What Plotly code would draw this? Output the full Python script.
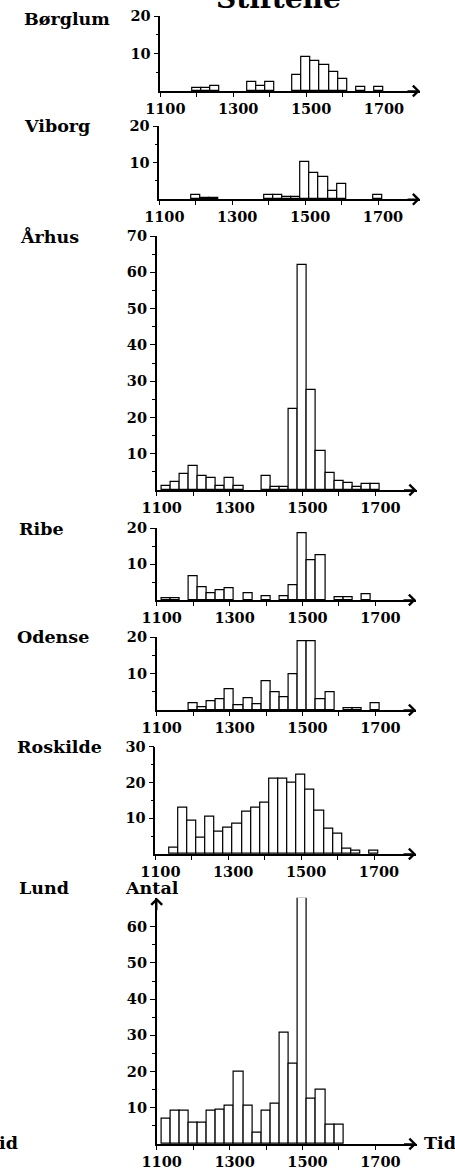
import plotly.graph_objects as go

W, H = 455, 1170

# ---- data ----
years = [1125, 1150, 1175, 1200, 1225, 1250, 1275, 1300, 1325, 1350, 1375, 1400,
         1425, 1450, 1475, 1500, 1525, 1550, 1575, 1600, 1625, 1650, 1675, 1700]

cities = ["Børglum", "Viborg", "Århus", "Ribe", "Odense", "Roskilde", "Lund"]

borglum = [0, 0, 0, 0.8, 0.7, 1.4, 0, 0, 0, 2.5, 1.3, 2.3,
           0, 0, 4.2, 9.0, 8.0, 7.0, 5.2, 3.2, 0, 1.2, 0, 1.2]
viborg = [0, 0, 0, 1.2, 0.3, 0.3, 0, 0, 0, 0, 0, 1.1,
          1.1, 0.5, 0.5, 10.2, 7.2, 6.0, 2.3, 4.2, 0, 0, 0, 1.2]
aarhus = [1.1, 2.2, 4.5, 6.6, 3.9, 3.4, 1.1, 3.4, 1.1, 0, 0, 3.9,
          0.9, 0.9, 22.4, 62, 27.5, 10.8, 4.7, 2.6, 1.8, 0.9, 1.6, 1.6]
ribe = [0.6, 0.6, 0, 6.7, 3.5, 2.0, 2.7, 3.4, 0, 2.0, 0, 1.0,
        0, 1.0, 4.0, 18.6, 11.0, 12.6, 0, 0.8, 0.8, 0, 1.7, 0]
odense = [0, 0, 0, 1.8, 0.8, 2.3, 2.9, 5.6, 1.2, 3.2, 1.6, 8.0,
          5.0, 3.6, 9.9, 18.9, 18.9, 3.0, 4.9, 0, 0.4, 0.4, 0, 1.9]
roskilde = [0, 1.9, 13.0, 9.3, 4.6, 10.4, 6.1, 7.4, 8.4, 11.8, 12.9, 14.4,
            21.0, 21.0, 19.9, 22.1, 17.9, 12.1, 7.2, 5.6, 1.6, 0.9, 0, 0.9]
lund = [7.1, 9.3, 9.3, 6.0, 6.0, 9.1, 9.6, 10.6, 20.1, 10.6, 3.1, 9.2,
        11.1, 30.6, 22.1, 68, 12.5, 15.0, 5.3, 5.3, 0, 0, 0, 0]

series = [borglum, viborg, aarhus, ribe, odense, roskilde, lund]
y_tops = [20, 20, 70, 20, 20, 30, 68]          # top of each y axis
x_tickvals = [1100, 1200, 1300, 1400, 1500, 1600, 1700]
x_ticktext = ["1100", "", "1300", "", "1500", "", "1700"]

# ---- layout geometry (pixels) ----
top_px = [16, 126, 236, 528.3, 637.3, 746.7, 897.7]
zero_px = [91, 199.3, 490, 600, 710, 854, 1144]
x0_px = [160.3, 159.3, 156.7, 156.7, 156.7, 155.3, 156.7]
tip_px = [420, 420, 416.5, 416, 416, 416, 416.5]
label_x = [22, 22, 18, 17, 15, 15, 17]
label_y = [19, 126, 237, 529, 637, 747, 888]
PX_PER_YEAR = 0.3645

FONT = "DejaVu Serif"
LBL = 17.5
fig = go.Figure()
layout = dict(width=W, height=H, margin=dict(l=0, r=0, t=0, b=0, autoexpand=False),
              paper_bgcolor="white", plot_bgcolor="white", showlegend=False,
              bargap=0)
annotations = []

for i, (name, vals) in enumerate(zip(cities, series)):
    k = "" if i == 0 else str(i + 1)
    fig.add_trace(go.Bar(
        x=years, y=[v if v else None for v in vals], width=25,
        marker=dict(color="white", line=dict(color="black", width=1.2)),
        xaxis="x" + k, yaxis="y" + k, cliponaxis=False, hoverinfo="x+y"))

    xr_end = 1100 + (tip_px[i] - x0_px[i]) / PX_PER_YEAR
    layout["xaxis" + k] = dict(
        domain=[x0_px[i] / W, tip_px[i] / W], range=[1100, xr_end],
        anchor="y" + k, showgrid=False, zeroline=False, automargin=False,
        showline=True, linecolor="black", linewidth=1.5,
        tickmode="array", tickvals=x_tickvals, ticktext=x_ticktext,
        ticks="outside", ticklen=4, tickwidth=1.3, tickcolor="black",
        ticklabelshift=5,
        tickfont=dict(family=FONT, size=14.5, color="black", weight="bold"))

    top = y_tops[i]
    major = list(range(10, int(top) + 1, 10))
    minor = [m for m in range(5, int(top), 10)]
    if name == "Lund":
        minor = [m for m in minor if m < 60]
    layout["yaxis" + k] = dict(
        domain=[1 - zero_px[i] / H, 1 - top_px[i] / H], range=[0, top],
        anchor="x" + k, showgrid=False, zeroline=False, automargin=False,
        showline=True, linecolor="black", linewidth=1.5,
        tickmode="array", tickvals=major, ticktext=[str(v) for v in major],
        ticks="outside", ticklen=5, tickwidth=1.3, tickcolor="black",
        minor=dict(tickmode="array", tickvals=minor, ticks="outside",
                   ticklen=2.5, tickwidth=1.2, tickcolor="black"),
        tickfont=dict(family=FONT, size=14.5, color="black", weight="bold"))

    # x-axis arrowhead
    annotations.append(dict(
        x=tip_px[i] / W, y=1 - zero_px[i] / H, xref="paper", yref="paper",
        ax=-14, ay=0, text="", showarrow=True, arrowhead=4, arrowsize=1.4,
        arrowwidth=1.5, arrowcolor="black", standoff=0))

    # city label
    annotations.append(dict(
        x=label_x[i] / W, y=1 - label_y[i] / H, xref="paper", yref="paper",
        xanchor="left", yanchor="middle", showarrow=False,
        text="<b>" + name + "</b>",
        font=dict(family=FONT, size=LBL, color="black")))

# Lund: y-axis arrow and labels
annotations.append(dict(
    x=x0_px[6] / W, y=1 - top_px[6] / H, xref="paper", yref="paper",
    ax=0, ay=14, text="", showarrow=True, arrowhead=4, arrowsize=1.4,
    arrowwidth=1.5, arrowcolor="black", standoff=0))
annotations.append(dict(
    x=123 / W, y=1 - 888 / H, xref="paper", yref="paper", xanchor="left",
    yanchor="middle", showarrow=False, text="<b>Antal</b>",
    font=dict(family=FONT, size=LBL, color="black")))
annotations.append(dict(
    x=422 / W, y=1 - 1143 / H, xref="paper", yref="paper", xanchor="left",
    yanchor="middle", showarrow=False, text="<b>Tid</b>",
    font=dict(family=FONT, size=LBL, color="black")))
annotations.append(dict(
    x=20 / W, y=1 - 1143 / H, xref="paper", yref="paper", xanchor="right",
    yanchor="middle", showarrow=False, text="<b>Tid</b>",
    font=dict(family=FONT, size=LBL, color="black")))

# title, mostly cut off at the top edge
annotations.append(dict(
    x=278 / W, y=1 + 2 / H, xref="paper", yref="paper", xanchor="center",
    yanchor="middle", showarrow=False, text="<b>Stiftene</b>",
    font=dict(family=FONT, size=28, color="black")))

layout["annotations"] = annotations
fig.update_layout(**layout)
fig.write_html("out.html", config={"displayModeBar": False},
               post_script="document.body.style.margin='0px';")
